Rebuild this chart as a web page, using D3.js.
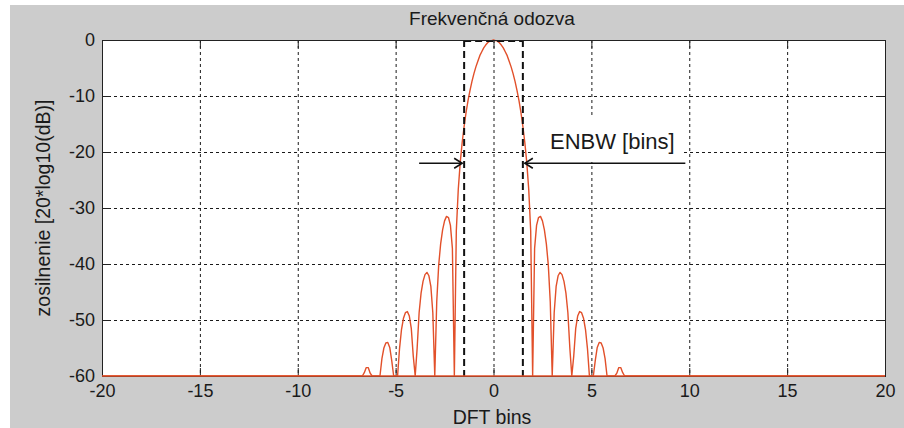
<!DOCTYPE html>
<html><head><meta charset="utf-8">
<script src="https://cdn.jsdelivr.net/npm/d3@7/dist/d3.min.js"></script>
<style>html,body{margin:0;padding:0;background:#fff;}svg{display:block;font-family:"Liberation Sans",Arial,sans-serif;}</style>
</head><body><svg id="c" width="904" height="428"></svg>
<script>
const title = "Frekvenčná odozva";
const xLabel = "DFT bins";
const yLabel = "zosilnenie [20*log10(dB)]";
const annotationText = "ENBW [bins]";
const xTicks = [-20, -15, -10, -5, 0, 5, 10, 15, 20];
const yTicks = [-60, -50, -40, -30, -20, -10, 0];
const bins = [-20,
 -7.0,-6.9,-6.8,-6.7,-6.6,-6.5,-6.4,-6.3,-6.2,-6.1,
 -6.0,-5.9,-5.8,-5.7,-5.6,-5.5,-5.4,-5.3,-5.2,-5.1,
 -5.0,-4.9,-4.8,-4.7,-4.6,-4.5,-4.4,-4.3,-4.2,-4.1,
 -4.0,-3.9,-3.8,-3.7,-3.6,-3.5,-3.4,-3.3,-3.2,-3.1,
 -3.0,-2.9,-2.8,-2.7,-2.6,-2.5,-2.4,-2.3,-2.2,-2.1,
 -2.0,-1.9,-1.8,-1.7,-1.6,-1.5,-1.4,-1.3,-1.2,-1.1,
 -1.0,-0.9,-0.8,-0.7,-0.6,-0.5,-0.4,-0.3,-0.2,-0.1,
 0,
 0.1,0.2,0.3,0.4,0.5,0.6,0.7,0.8,0.9,1.0,
 1.1,1.2,1.3,1.4,1.5,1.6,1.7,1.8,1.9,2.0,
 2.1,2.2,2.3,2.4,2.5,2.6,2.7,2.8,2.9,3.0,
 3.1,3.2,3.3,3.4,3.5,3.6,3.7,3.8,3.9,4.0,
 4.1,4.2,4.3,4.4,4.5,4.6,4.7,4.8,4.9,5.0,
 5.1,5.2,5.3,5.4,5.5,5.6,5.7,5.8,5.9,6.0,
 6.1,6.2,6.3,6.4,6.5,6.6,6.7,6.8,6.9,7.0,
 20];
const gainDb = [-60,
 -60,-60,-60,-60,-59.4,-58.5,-58.5,-59.5,-60,-60,
 -60,-60,-60,-56.9,-55.0,-54.1,-54.0,-54.9,-57.2,-60,
 -60,-60,-55.1,-51.7,-49.7,-48.7,-48.5,-49.3,-51.5,-56.4,
 -60,-55.0,-48.7,-45.2,-43.1,-41.9,-41.5,-42.1,-44.0,-48.7,
 -60,-46.8,-40.2,-36.4,-33.9,-32.3,-31.5,-31.7,-33.1,-37.2,
 -60,-34.1,-26.7,-21.9,-18.3,-15.4,-12.9,-10.8,-9.0,-7.4,
 -6.0,-4.8,-3.8,-2.8,-2.1,-1.4,-0.9,-0.5,-0.2,-0.1,
 0,
 -0.1,-0.2,-0.5,-0.9,-1.4,-2.1,-2.8,-3.8,-4.8,-6.0,
 -7.4,-9.0,-10.8,-12.9,-15.4,-18.3,-21.9,-26.7,-34.1,-60,
 -37.2,-33.1,-31.7,-31.5,-32.3,-33.9,-36.4,-40.2,-46.8,-60,
 -48.7,-44.0,-42.1,-41.5,-41.9,-43.1,-45.2,-48.7,-55.0,-60,
 -56.4,-51.5,-49.3,-48.5,-48.7,-49.7,-51.7,-55.1,-60,-60,
 -60,-57.2,-54.9,-54.0,-54.1,-55.0,-56.9,-60,-60,-60,
 -60,-60,-59.5,-58.5,-58.5,-59.4,-60,-60,-60,-60,
 -60];
const enbwEdges = [-1.5, 1.5];
const arrowLevel = -22;
const arrowLeft = [-3.8, -1.6];
const arrowRight = [9.8, 1.6];

const svg = d3.select("#c");
const W = 904, H = 428;
const L = 102, R = 885, T = 40, B = 376;
svg.append("rect").attr("x",0).attr("y",0).attr("width",W).attr("height",H).attr("fill","#fff");
svg.append("rect").attr("x",10).attr("y",5).attr("width",W-10).attr("height",H-5).attr("fill","#cccccc");

const x = d3.scaleLinear().domain([-20,20]).range([L,R]);
const y = d3.scaleLinear().domain([-60,0]).range([B,T]);

svg.append("rect").attr("x",L).attr("y",T).attr("width",R-L).attr("height",B-T).attr("fill","#fff");

// grid
const grid = svg.append("g").attr("stroke","#1a1a1a").attr("stroke-width",1).attr("stroke-dasharray","3,3");
grid.selectAll("line.v").data(xTicks.slice(1,-1)).join("line")
  .attr("x1",d=>x(d)+0.5).attr("x2",d=>x(d)+0.5).attr("y1",T).attr("y2",B);
grid.selectAll("line.h").data(yTicks.slice(1,-1)).join("line")
  .attr("x1",L).attr("x2",R).attr("y1",d=>y(d)+0.5).attr("y2",d=>y(d)+0.5);

// white box behind annotation text
svg.append("rect").attr("x",537).attr("y",118).attr("width",146).attr("height",44).attr("fill","#fff");

// axes (ticks inward)
const fontTick = 18;
const fmt = d => String(d);
const ax = svg.append("g").attr("transform",`translate(0,${B})`)
  .call(d3.axisBottom(x).tickValues(xTicks).tickSize(-8).tickPadding(8).tickFormat(fmt));
const ay = svg.append("g").attr("transform",`translate(${L},0)`)
  .call(d3.axisLeft(y).tickValues(yTicks).tickSize(-8).tickPadding(7).tickFormat(fmt));
const axT = svg.append("g").attr("transform",`translate(0,${T})`)
  .call(d3.axisTop(x).tickValues(xTicks).tickSize(-8).tickFormat(""));
const ayR = svg.append("g").attr("transform",`translate(${R},0)`)
  .call(d3.axisRight(y).tickValues(yTicks).tickSize(-8).tickFormat(""));
[ax,ay,axT,ayR].forEach(g=>{
  g.select(".domain").remove();
  g.selectAll(".tick line").attr("stroke","#222");
  g.selectAll("text").attr("fill","#1a1a1a").style("font-size",fontTick+"px")
    .style("font-family","'Liberation Sans',Arial,sans-serif");
});

// curve
const line = d3.line().x((d,i)=>x(bins[i])).y(d=>y(d));
svg.append("path").datum(gainDb).attr("d",line).attr("fill","none")
  .attr("stroke","#e2502a").attr("stroke-width",1.4).attr("stroke-linejoin","round");

// ENBW dashed rectangle
const enbw = svg.append("g").attr("stroke","#111").attr("stroke-width",2).attr("stroke-dasharray","7,4").attr("fill","none");
enbw.selectAll("line.e").data(enbwEdges).join("line")
  .attr("x1",d=>x(d)).attr("x2",d=>x(d)).attr("y1",y(0)).attr("y2",y(-60));
enbw.append("line").attr("x1",x(enbwEdges[0])).attr("x2",x(enbwEdges[1])).attr("y1",y(0)+1).attr("y2",y(0)+1);

// arrows
function arrow(from, to){
  const g = svg.append("g").attr("stroke","#111").attr("stroke-width",1.6).attr("fill","none");
  const yy = y(arrowLevel);
  g.append("line").attr("x1",x(from)).attr("x2",x(to)).attr("y1",yy).attr("y2",yy);
  const dir = Math.sign(x(to)-x(from));
  const tx = x(to);
  g.append("path").attr("d",`M${tx-dir*8},${yy-5}L${tx},${yy}L${tx-dir*8},${yy+5}`);
}
arrow(arrowLeft[0], arrowLeft[1]);
arrow(arrowRight[0], arrowRight[1]);

svg.append("text").attr("x",550).attr("y",149).attr("font-size",22).attr("fill","#1a1a1a").text(annotationText);

// box
svg.append("rect").attr("x",L+0.5).attr("y",T+0.5).attr("width",R-L).attr("height",B-T)
  .attr("fill","none").attr("stroke","#222").attr("stroke-width",1);
// curve's flat bottom drawn above the box edge
svg.append("line").attr("x1",x(-20)).attr("x2",x(20)).attr("y1",y(-60)).attr("y2",y(-60))
  .attr("stroke","#e2502a").attr("stroke-width",1.4);

svg.append("text").attr("x",492).attr("y",25).attr("text-anchor","middle").attr("font-size",19).attr("fill","#1a1a1a").text(title);
svg.append("text").attr("x",492).attr("y",424).attr("text-anchor","middle").attr("font-size",19.5).attr("fill","#1a1a1a").text(xLabel);
svg.append("text").attr("transform","translate(50,208) rotate(-90)").attr("text-anchor","middle").attr("font-size",19.5).attr("fill","#1a1a1a").text(yLabel);
</script></body></html>
